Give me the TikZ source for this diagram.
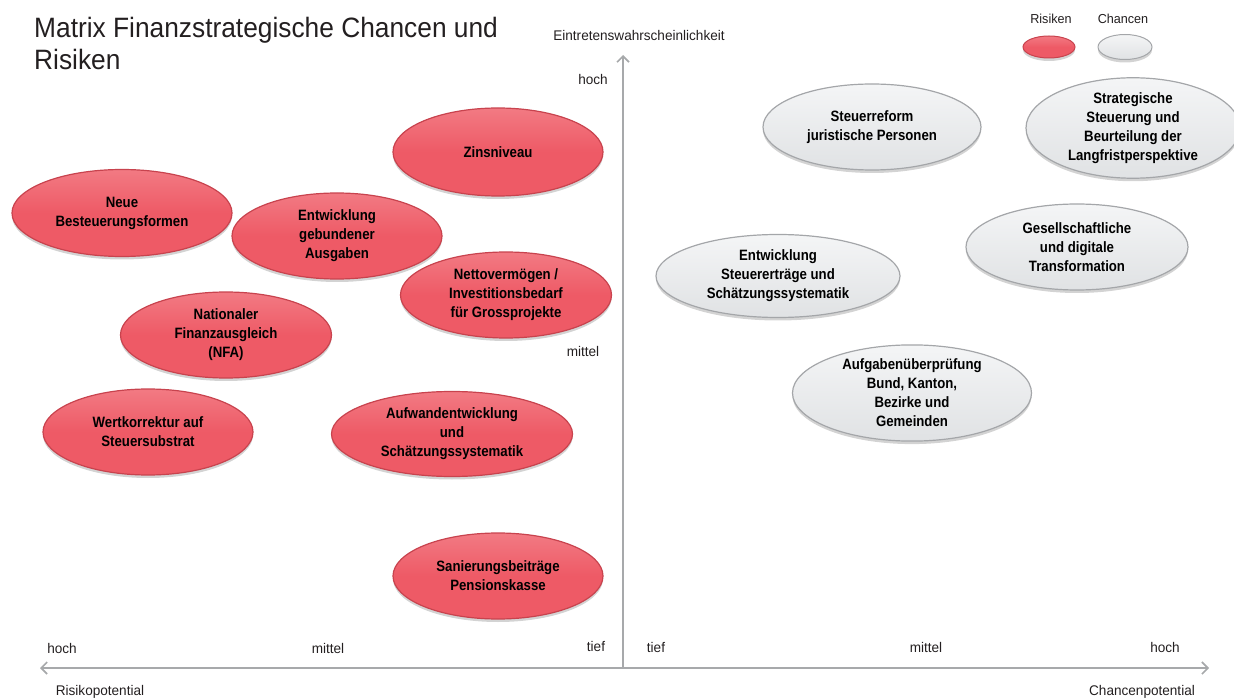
\documentclass[tikz,border=0pt]{standalone}
\usepackage{fontspec}
\setmainfont{Liberation Sans}[FakeStretch=0.88]
\newfontfamily\titlefont{Liberation Sans}[FakeStretch=0.94]
\newfontfamily\labfont{Liberation Sans}[FakeStretch=0.97]
\usetikzlibrary{shapes.geometric,arrows.meta,shadows}
\definecolor{riskred}{HTML}{EE5A66}
\definecolor{risktop}{HTML}{F27A83}
\definecolor{riskedge}{HTML}{C8434E}
\definecolor{chgrey}{HTML}{E0E2E4}
\definecolor{chtop}{HTML}{F4F5F6}
\definecolor{chedge}{HTML}{A4A6A9}
\definecolor{axisgrey}{HTML}{A7A9AB}
\definecolor{txt}{HTML}{231F20}
\tikzset{
  blob/.style={ellipse, inner sep=0pt, align=center, text=black,
    font=\fontsize{15}{19}\selectfont\bfseries, line width=1.2pt,
    drop shadow={shadow xshift=0pt, shadow yshift=-3pt, opacity=0.35}},
  risk/.style={blob, draw=riskedge, top color=risktop, bottom color=riskred, middle color=riskred},
  chance/.style={blob, draw=chedge, top color=chtop, bottom color=chgrey},
  axis/.style={draw=axisgrey, line width=1.6pt, -{Straight Barb[length=6pt,width=12pt]}},
  lab/.style={font=\labfont\fontsize{14}{16}\selectfont, text=txt, inner sep=0pt},
}
\begin{document}
\begin{tikzpicture}[x=1pt,y=-1pt]
\useasboundingbox (0,0) rectangle (1234,700);
% title
\node[anchor=north west, align=left, inner sep=0pt, text=txt,
  font=\titlefont\fontsize{28}{32}\selectfont] (title) at (34,17) {Matrix Finanzstrategische Chancen und\\Risiken};
% axes
\coordinate (o) at (623,668);
\coordinate (top) at (623,55);
\coordinate (left) at (40,668);
\coordinate (right) at (1209,668);
\draw[axis] (o) -- (top);
\draw[axis] (o) -- (left);
\draw[axis] (o) -- (right);
% axis labels
\node[lab] (ylab) at (639,36) {Eintretenswahrscheinlichkeit};
\node[lab] (yhoch) at (593,80) {hoch};
\node[lab] (ymittel) at (583,351) {mittel};
\node[lab] (xtiefl) at (596,646) {tief};
\node[lab] (xmittell) at (328,648) {mittel};
\node[lab] (xhochl) at (62,648) {hoch};
\node[lab] (xtiefr) at (656,647) {tief};
\node[lab] (xmittelr) at (926,647) {mittel};
\node[lab] (xhochr) at (1165,647) {hoch};
\node[lab] (rlab) at (100,692) {Risikopotential};
\node[lab] (clab) at (1142,692) {Chancenpotential};
% legend
\node[lab, font=\labfont\fontsize{13}{15}\selectfont] (legr) at (1051,19) {Risiken};
\node[lab, font=\labfont\fontsize{13}{15}\selectfont] (legc) at (1123,19) {Chancen};
\node[risk, minimum width=52pt, minimum height=22pt, line width=1pt] (legre) at (1049,47) {};
\node[chance, minimum width=54pt, minimum height=25pt, line width=1pt] (legce) at (1125,47) {};
% risks
\node[risk, minimum width=210pt, minimum height=88pt] (zins) at (498,152) {Zinsniveau};
\node[risk, minimum width=220pt, minimum height=87pt] (neue) at (122,213) {Neue\\Besteuerungsformen};
\node[risk, minimum width=210pt, minimum height=86pt] (geb) at (337,236) {Entwicklung\\gebundener\\Ausgaben};
\node[risk, minimum width=211pt, minimum height=86pt] (netto) at (506,295) {Nettovermögen /\\Investitionsbedarf\\für Grossprojekte};
\node[risk, minimum width=211pt, minimum height=86pt] (nfa) at (226,335) {Nationaler\\Finanzausgleich\\(NFA)};
\node[risk, minimum width=210pt, minimum height=86pt] (wert) at (148,432) {Wertkorrektur auf\\Steuersubstrat};
\node[risk, minimum width=241pt, minimum height=85pt] (aufw) at (452,434) {Aufwandentwicklung\\und\\Schätzungssystematik};
\node[risk, minimum width=210pt, minimum height=86pt] (san) at (498,576) {Sanierungsbeiträge\\Pensionskasse};
% chances
\node[chance, minimum width=218pt, minimum height=86pt] (steu) at (872,127) {Steuerreform\\juristische Personen};
\node[chance, minimum width=214pt, minimum height=88pt] (strat) at (1133,128) {Strategische\\Steuerung und\\Beurteilung der\\Langfristperspektive};
\node[chance, minimum width=222pt, minimum height=86pt] (ges) at (1077,247) {Gesellschaftliche\\und digitale\\Transformation};
\node[chance, minimum width=244pt, minimum height=83pt] (ents) at (778,276) {Entwicklung\\Steuererträge und\\Schätzungssystematik};
\node[chance, minimum width=239pt, minimum height=92pt] (aufg) at (912,393) {Aufgabenüberprüfung\\Bund, Kanton,\\Bezirke und\\Gemeinden};
\end{tikzpicture}
\end{document}
